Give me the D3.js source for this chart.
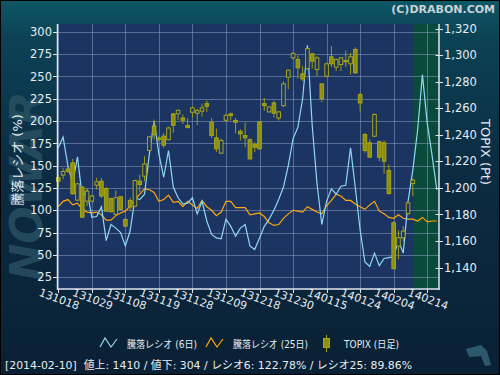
<!DOCTYPE html>
<html>
<head>
<meta charset="utf-8">
<script src="https://cdn.jsdelivr.net/npm/d3@7"></script>
<style>
  body { margin: 0; background: #0a2236; }
  text { font-family: "DejaVu Sans", "Noto Sans CJK JP", sans-serif; }
</style>
</head>
<body>
<div id="chart"></div>
<script>
// x-axis tick labels (every 7 trading days)
const tickLabels = ["131018", "131029", "131108", "131119", "131128", "131209",
  "131218", "131230", "140115", "140124", "140204", "140214"];

// 騰落レシオ (6日), one value per trading day
const ratio6 = [170, 182, 150, 130, 160, 115, 122, 92, 93, 104,
  66, 84, 80, 75, 60, 77, 114, 112, 118, 163,
  200, 163, 137, 167, 126, 114, 107, 108, 114, 96,
  110, 88, 73, 69, 68, 90, 82, 71, 80, 84,
  60, 56, 69, 82, 90, 100, 112, 126, 150, 180,
  193, 225, 285, 195, 130, 84, 110, 124, 118, 127,
  128, 170, 125, 78, 42, 37, 52, 38, 46, 47,
  48, 66, 52, 110, 145, 190, 252, 198, 162, 123];

// 騰落レシオ (25日)
const ratio25 = [104, 110, 112, 106, 108, 101, 98, 97, 98, 95,
  89, 89, 94, 97, 99, 105, 112, 118, 124, 123,
  120, 110, 112, 117, 109, 110, 104, 110, 106, 102,
  111, 104, 100, 94, 98, 110, 110, 103, 103, 103,
  95, 96, 97, 93, 86, 83, 84, 91, 96, 100,
  99, 98, 104, 101, 98, 96, 105, 111, 118, 116,
  111, 111, 107, 104, 101, 106, 110, 99, 96, 92,
  91, 95, 91, 90, 90, 88, 92, 87, 88, 88];

// TOPIX daily OHLC
const topixOpen = [1207.6, 1209.6, 1214.2, 1218.8, 1190.7, 1200.5, 1190.0, 1190.0, 1202.0, 1205.0,
  1199.5, 1192.0, 1180.0, 1193.3, 1176.2, 1190.5, 1186.2, 1205.0, 1208.8, 1228.1,
  1246.4, 1237.5, 1238.9, 1236.3, 1255.7, 1255.7, 1252.6, 1246.9, 1256.9, 1256.2,
  1257.7, 1263.4, 1249.4, 1237.6, 1226.1, 1250.9, 1255.7, 1250.7, 1242.6, 1239.4,
  1236.3, 1232.6, 1249.6, 1263.4, 1257.2, 1263.9, 1252.6, 1261.9, 1283.3, 1297.9,
  1296.7, 1285.8, 1289.8, 1300.9, 1289.1, 1278.3, 1284.1, 1298.7, 1290.9, 1292.9,
  1295.9, 1293.4, 1304.2, 1270.2, 1240.1, 1233.9, 1238.9, 1234.7, 1233.9, 1213.0,
  1173.7, 1156.1, 1162.4, 1180.5, 1203.3];
const topixHigh = [1209.6, 1215.0, 1216.3, 1221.8, 1203.8, 1201.3, 1199.5, 1194.5, 1207.6, 1207.6,
  1200.5, 1192.5, 1198.2, 1193.8, 1177.5, 1192.5, 1206.2, 1210.0, 1223.8, 1239.0,
  1251.4, 1239.0, 1241.4, 1246.0, 1256.4, 1259.0, 1255.2, 1252.6, 1261.4, 1259.7,
  1263.4, 1265.7, 1252.6, 1244.6, 1237.0, 1255.7, 1256.7, 1252.6, 1244.1, 1249.4,
  1237.1, 1234.4, 1250.1, 1267.7, 1261.4, 1265.7, 1257.7, 1280.3, 1289.1, 1302.4,
  1299.9, 1291.6, 1305.4, 1301.7, 1299.2, 1278.8, 1294.2, 1306.7, 1297.5, 1298.4,
  1303.4, 1301.7, 1305.9, 1271.5, 1241.4, 1236.4, 1256.0, 1235.7, 1235.7, 1217.6,
  1174.9, 1167.9, 1171.2, 1190.0, 1207.0];
const topixLow = [1200.5, 1206.4, 1211.3, 1195.0, 1190.0, 1177.4, 1186.2, 1189.0, 1198.7, 1192.5,
  1181.9, 1181.4, 1178.7, 1183.2, 1170.4, 1182.4, 1185.5, 1196.7, 1205.0, 1227.6,
  1236.3, 1235.0, 1230.1, 1235.8, 1241.4, 1251.0, 1248.0, 1244.7, 1253.0, 1247.1,
  1253.6, 1257.2, 1237.6, 1226.9, 1225.4, 1249.6, 1250.9, 1241.1, 1235.6, 1230.6,
  1221.3, 1226.9, 1228.9, 1258.0, 1256.4, 1253.0, 1250.7, 1260.7, 1274.3, 1296.7,
  1282.3, 1280.3, 1289.1, 1289.8, 1284.1, 1264.4, 1283.3, 1290.9, 1288.0, 1288.0,
  1290.9, 1285.3, 1285.8, 1257.7, 1226.4, 1222.6, 1238.2, 1220.1, 1210.6, 1195.0,
  1138.6, 1146.1, 1159.9, 1179.5, 1193.8];
const topixClose = [1205.0, 1212.3, 1212.5, 1195.5, 1203.0, 1177.9, 1197.5, 1193.8, 1204.5, 1193.8,
  1182.4, 1182.0, 1192.5, 1183.7, 1171.2, 1185.5, 1205.5, 1202.5, 1218.0, 1238.4,
  1240.1, 1236.5, 1232.1, 1245.1, 1247.1, 1258.4, 1250.9, 1245.4, 1260.2, 1258.2,
  1260.2, 1261.4, 1239.4, 1229.4, 1235.6, 1254.7, 1254.4, 1249.4, 1240.6, 1237.6,
  1221.8, 1230.6, 1229.4, 1261.9, 1260.9, 1256.2, 1257.2, 1278.3, 1288.6, 1301.2,
  1290.4, 1282.0, 1304.9, 1295.4, 1297.9, 1267.2, 1293.4, 1293.4, 1296.7, 1297.9,
  1294.9, 1298.7, 1286.6, 1263.9, 1228.1, 1223.1, 1255.2, 1223.1, 1220.1, 1195.7,
  1139.1, 1162.4, 1167.4, 1188.7, 1205.8];

const ratioTicks = [25, 50, 75, 100, 125, 150, 175, 200, 225, 250, 275, 300];
const topixTicks = [1140, 1160, 1180, 1200, 1220, 1240, 1260, 1280, 1300, 1320];
const highlightFrom = 74;   // shaded period (index of trading day)

const W = 500, H = 375;
const plot = { left: 58, right: 439, top: 24, bottom: 289 };

const svg = d3.select("#chart").append("svg")
  .attr("width", W).attr("height", H);

// background
const defs = svg.append("defs");
const bg = defs.append("linearGradient").attr("id", "bg")
  .attr("x1", 0).attr("y1", 0).attr("x2", 0).attr("y2", 1);
bg.append("stop").attr("offset", "0%").attr("stop-color", "#0e5866");
bg.append("stop").attr("offset", "10%").attr("stop-color", "#0c4254");
bg.append("stop").attr("offset", "45%").attr("stop-color", "#0b2c43");
bg.append("stop").attr("offset", "100%").attr("stop-color", "#0a2034");
svg.append("rect").attr("width", W).attr("height", H).attr("fill", "url(#bg)")
  .attr("stroke", "#000").attr("stroke-width", 2);

// watermark
svg.append("text")
  .attr("transform", "translate(42,186) rotate(-90)")
  .attr("text-anchor", "middle")
  .attr("font-size", 44).attr("font-weight", "bold").attr("font-style", "italic")
  .attr("fill", "#2c5466").attr("opacity", 0.75)
  .text("NOWAR");
svg.append("path")
  .attr("d", "M466,349 L481,345 L487,351 L491,365 L485,366 L481,356 L469,357 Z")
  .attr("fill", "#2c5a6c");

// scales
const x = d3.scaleLinear().domain([0, 79.4]).range([58.3, 438.7]);
const yL = d3.scaleLinear().domain([25, 300]).range([277.2, 31.8]);
const yR = d3.scaleLinear().domain([1140, 1320]).range([267.5, 28.5]);

// plot area
svg.append("rect")
  .attr("x", plot.left).attr("y", plot.top)
  .attr("width", plot.right - plot.left).attr("height", plot.bottom - plot.top)
  .attr("fill", "#1b3462");
svg.append("rect")
  .attr("x", x(highlightFrom)).attr("y", plot.top)
  .attr("width", plot.right - x(highlightFrom)).attr("height", plot.bottom - plot.top)
  .attr("fill", "#0a4a3c");

// grid
const tickIdx = tickLabels.map((d, i) => i * 7);
const grid = svg.append("g").attr("stroke", "#8a9cbc").attr("stroke-opacity", 0.55).attr("stroke-width", 1);
grid.selectAll(".gh").data(ratioTicks).join("line")
  .attr("x1", plot.left).attr("x2", plot.right)
  .attr("y1", d => Math.round(yL(d)) + 0.5).attr("y2", d => Math.round(yL(d)) + 0.5);
grid.selectAll(".gv").data(tickIdx).join("line")
  .attr("x1", d => Math.round(x(d)) + 0.5).attr("x2", d => Math.round(x(d)) + 0.5)
  .attr("y1", plot.top).attr("y2", plot.bottom);

// lines
const ratioLine = d3.line().x((d, i) => x(i)).y(d => yL(d));
svg.append("path").datum(ratio25)
  .attr("fill", "none").attr("stroke", "#ffa60a").attr("stroke-width", 1.2)
  .attr("d", ratioLine);
svg.append("path").datum(ratio6)
  .attr("fill", "none").attr("stroke", "#8fd8f2").attr("stroke-width", 1.2)
  .attr("d", ratioLine);

// candles
const candles = topixOpen.map((o, i) => ({
  i, o, h: topixHigh[i], l: topixLow[i], c: topixClose[i]
}));
const cw = 3.6;
const cg = svg.append("g");
cg.selectAll(".wick").data(candles).join("line")
  .attr("x1", d => x(d.i)).attr("x2", d => x(d.i))
  .attr("y1", d => yR(d.h)).attr("y2", d => yR(d.l))
  .attr("stroke", "#9c9c10").attr("stroke-width", 1);
cg.selectAll(".body").data(candles).join("rect")
  .attr("x", d => x(d.i) - cw / 2)
  .attr("y", d => yR(Math.max(d.o, d.c)))
  .attr("width", cw)
  .attr("height", d => Math.max(1, Math.abs(yR(d.o) - yR(d.c))))
  .attr("fill", d => d.c < d.o ? "#8f8f0c" : "#1b3462")
  .attr("stroke", "#a6a618").attr("stroke-width", 1);

// axes
const axisColor = "#dfe5ee";
const ax = svg.append("g").attr("stroke", axisColor).attr("stroke-width", 1.5);
ax.append("line").attr("x1", 57.5).attr("x2", 57.5).attr("y1", plot.top).attr("y2", plot.bottom + 1);
ax.append("line").attr("x1", 439).attr("x2", 439).attr("y1", plot.top).attr("y2", plot.bottom + 1);
ax.append("line").attr("x1", 57).attr("x2", 439.5).attr("y1", plot.bottom).attr("y2", plot.bottom);

ax.selectAll(".tl").data(ratioTicks).join("line")
  .attr("x1", 53).attr("x2", 57.5)
  .attr("y1", d => Math.round(yL(d)) + 0.5).attr("y2", d => Math.round(yL(d)) + 0.5)
  .attr("stroke-width", 1);
ax.selectAll(".tr").data(topixTicks).join("line")
  .attr("x1", 435.5).attr("x2", 443)
  .attr("y1", d => Math.round(yR(d)) + 0.5).attr("y2", d => Math.round(yR(d)) + 0.5)
  .attr("stroke-width", 1);
ax.selectAll(".tb").data(tickIdx).join("line")
  .attr("x1", d => Math.round(x(d)) + 0.5).attr("x2", d => Math.round(x(d)) + 0.5)
  .attr("y1", plot.bottom).attr("y2", plot.bottom + 4)
  .attr("stroke-width", 1);

const txt = "#e6ecf2";
svg.selectAll(".ll").data(ratioTicks).join("text")
  .attr("x", 52).attr("y", d => yL(d) + 4.2)
  .attr("text-anchor", "end").attr("font-size", 11.5).attr("fill", txt)
  .text(d => d);
svg.selectAll(".rl").data(topixTicks).join("text")
  .attr("x", 444).attr("y", d => yR(d) + 4.2)
  .attr("font-size", 11.5).attr("fill", txt)
  .text(d => d3.format(",")(d));
svg.selectAll(".xl").data(tickLabels).join("text")
  .attr("transform", (d, i) => `translate(${x(tickIdx[i]) + 1},299) rotate(20)`)
  .attr("y", 4).attr("text-anchor", "middle")
  .attr("font-size", 11).attr("fill", txt)
  .text(d => d);

// axis titles
svg.append("text")
  .attr("transform", "translate(22,160) rotate(-90)")
  .attr("text-anchor", "middle").attr("font-size", 13).attr("fill", txt)
  .text("騰落レシオ (%)");
svg.append("text")
  .attr("transform", "translate(481,152) rotate(90)")
  .attr("text-anchor", "middle").attr("font-size", 13).attr("fill", txt)
  .text("TOPIX (Pt)");

// copyright
svg.append("text")
  .attr("x", 495).attr("y", 13).attr("text-anchor", "end")
  .attr("font-size", 11).attr("font-weight", "bold").attr("fill", "#c9d2d7")
  .text("(C)DRABON.COM");

// legend
const lg = svg.append("g");
lg.append("path").attr("d", "M100,347 L105,338 L111,347 L117,339")
  .attr("fill", "none").attr("stroke", "#8fd8f2").attr("stroke-width", 1.2);
lg.append("text").attr("x", 127).attr("y", 348).attr("font-size", 10).attr("fill", txt)
  .attr("textLength", 70).attr("lengthAdjust", "spacingAndGlyphs")
  .text("騰落レシオ (6日)");
lg.append("path").attr("d", "M206,347 L211,338 L217,347 L223,339")
  .attr("fill", "none").attr("stroke", "#ffa60a").attr("stroke-width", 1.2);
lg.append("text").attr("x", 233).attr("y", 348).attr("font-size", 10).attr("fill", txt)
  .attr("textLength", 75).attr("lengthAdjust", "spacingAndGlyphs")
  .text("騰落レシオ (25日)");
lg.append("line").attr("x1", 326.5).attr("x2", 326.5).attr("y1", 335).attr("y2", 352)
  .attr("stroke", "#9c9c10");
lg.append("rect").attr("x", 323.5).attr("y", 338.5).attr("width", 6).attr("height", 9)
  .attr("fill", "#8f8f0c").attr("stroke", "#a6a618");
lg.append("text").attr("x", 344).attr("y", 348).attr("font-size", 10).attr("fill", txt)
  .attr("textLength", 55).attr("lengthAdjust", "spacingAndGlyphs")
  .text("TOPIX (日足)");

// status line
svg.append("text")
  .attr("x", 5).attr("y", 369).attr("font-size", 11).attr("fill", txt)
  .attr("textLength", 407).attr("lengthAdjust", "spacingAndGlyphs")
  .style("white-space", "pre")
  .text("[2014-02-10]  値上: 1410 / 値下: 304 / レシオ6: 122.78% / レシオ25: 89.86%");
</script>
</body>
</html>
